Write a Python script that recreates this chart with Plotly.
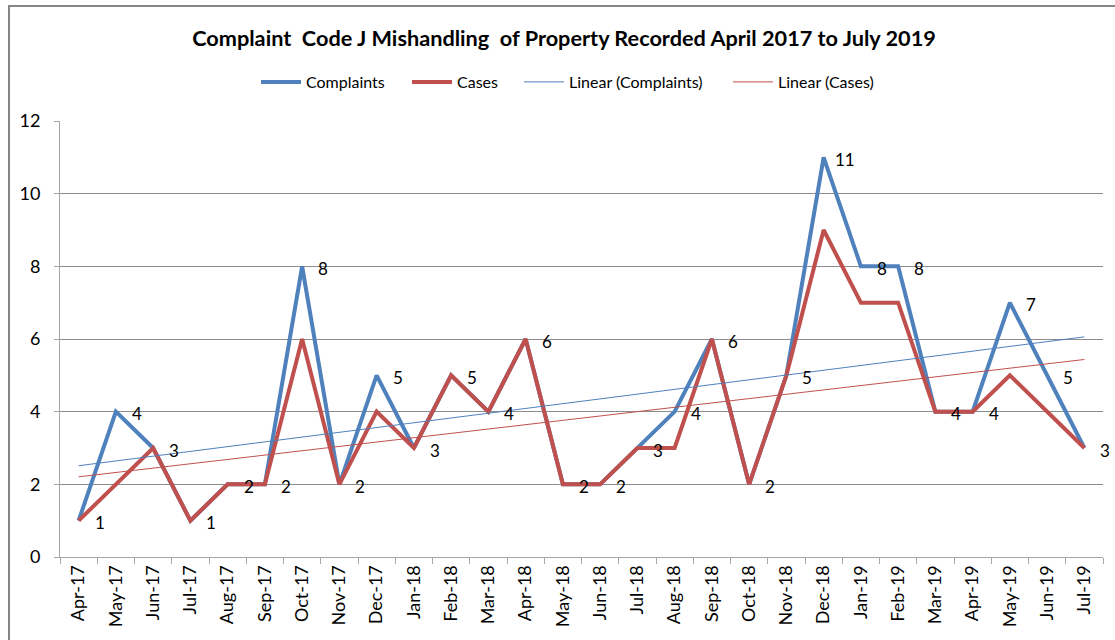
import numpy as np
import plotly.graph_objects as go

months = ["Apr-17", "May-17", "Jun-17", "Jul-17", "Aug-17", "Sep-17", "Oct-17", "Nov-17",
          "Dec-17", "Jan-18", "Feb-18", "Mar-18", "Apr-18", "May-18", "Jun-18", "Jul-18",
          "Aug-18", "Sep-18", "Oct-18", "Nov-18", "Dec-18", "Jan-19", "Feb-19", "Mar-19",
          "Apr-19", "May-19", "Jun-19", "Jul-19"]
complaints = [1, 4, 3, 1, 2, 2, 8, 2, 5, 3, 5, 4, 6, 2, 2, 3, 4, 6, 2, 5, 11, 8, 8, 4, 4, 7, 5, 3]
cases = [1, 2, 3, 1, 2, 2, 6, 2, 4, 3, 5, 4, 6, 2, 2, 3, 3, 6, 2, 5, 9, 7, 7, 4, 4, 5, 4, 3]
y_ticks = [0, 2, 4, 6, 8, 10, 12]

BLUE = "#4F81BD"
RED = "#C0504D"
FONT = "Lato"

# plot area in pixels: x 60..1103, y 121..557
PL, PR, PT, PB = 60, 1103, 121, 557


def px_x(p):
    return (p - PL) / (PR - PL)


def px_y(p):
    return (PB - p) / (PB - PT)


idx = np.arange(len(months))
tc = np.polyval(np.polyfit(idx, complaints, 1), idx)
tk = np.polyval(np.polyfit(idx, cases, 1), idx)

fig = go.Figure()
fig.add_trace(go.Scatter(x=months, y=complaints, name="Complaints", mode="lines",
                         line=dict(color=BLUE, width=4), legend="legend"))
fig.add_trace(go.Scatter(x=months, y=cases, name="Cases", mode="lines",
                         line=dict(color=RED, width=4), legend="legend2"))
fig.add_trace(go.Scatter(x=months, y=tc, name="Linear (Complaints)", mode="lines",
                         line=dict(color=BLUE, width=1), legend="legend3"))
fig.add_trace(go.Scatter(x=months, y=tk, name="Linear (Cases)", mode="lines",
                         line=dict(color=RED, width=1), legend="legend4"))

annotations = []
for m, v in zip(months, complaints):
    annotations.append(dict(x=m, y=v, xref="x", yref="y", text=str(v), showarrow=False,
                            xshift=21, yshift=-2, font=dict(family=FONT, size=17, color="#000000")))

legend_font = dict(family=FONT, size=16, color="#000000")


def leg(xpix):
    return dict(orientation="h", x=px_x(xpix), xanchor="left", y=px_y(82), yanchor="middle",
                font=legend_font, bgcolor="rgba(0,0,0,0)", itemwidth=40)


fig.update_layout(
    width=1115, height=640,
    margin=dict(l=PL, r=1115 - PR, t=PT, b=640 - PB, autoexpand=False),
    paper_bgcolor="white", plot_bgcolor="white",
    font=dict(family=FONT, color="#000000"),
    title=dict(text="<b>Complaint  Code J Mishandling  of Property Recorded April 2017 to July 2019</b>",
               x=px_x(564), xanchor="center", xref="paper", y=1 - 38 / 640, yanchor="middle",
               font=dict(family=FONT, size=21.7, color="#000000")),
    legend=leg(256),
    legend2=leg(407),
    legend3=leg(519),
    legend4=leg(728),
    annotations=annotations,
    shapes=[dict(type="rect", xref="paper", yref="paper", x0=px_x(9), x1=px_x(1130),
                 y0=px_y(700), y1=px_y(6), line=dict(color="#868686", width=2), layer="above")],
    showlegend=True,
)
fig.update_xaxes(type="category", range=[-0.5, len(months) - 0.5], tickson="boundaries",
                 ticks="outside", ticklen=6, tickcolor="#A6A6A6", showline=True,
                 linecolor="#A6A6A6", linewidth=1, showgrid=False, tickangle=-90,
                 automargin=False,
                 tickfont=dict(family=FONT, size=18, color="#000000"))
fig.update_yaxes(range=[0, 12], tickvals=y_ticks, ticks="outside", ticklen=5,
                 tickcolor="#A6A6A6", showline=True, linecolor="#A6A6A6", linewidth=1,
                 showgrid=True, gridcolor="#8C8C8C", gridwidth=1, zeroline=False,
                 ticklabelstandoff=10, automargin=False,
                 tickfont=dict(family=FONT, size=18, color="#000000"))

fig.write_html("out.html", config={"displayModeBar": False},
               post_script="document.body.style.margin='0px';")
